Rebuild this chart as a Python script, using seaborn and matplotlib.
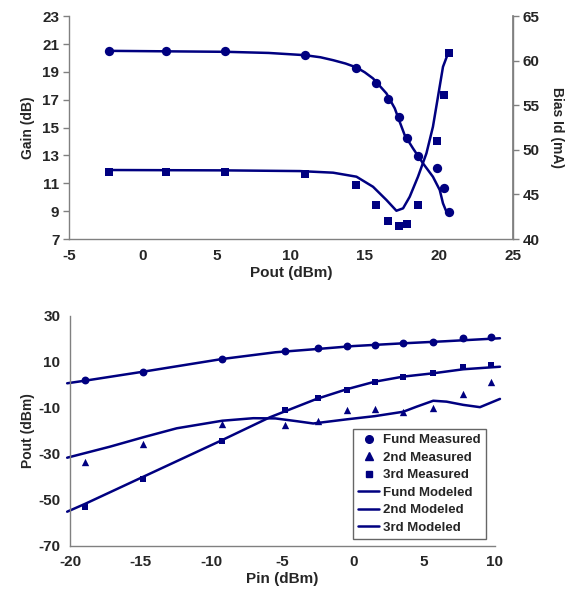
import matplotlib
matplotlib.use("Agg")
import matplotlib.pyplot as plt
from matplotlib.lines import Line2D
import seaborn as sns

sns.set_theme(style="white")
plt.rcParams['font.family'] = ['Liberation Sans', 'DejaVu Sans']
plt.rcParams['font.weight'] = 'bold'
plt.rcParams['axes.unicode_minus'] = False

NAVY = '#000080'
GRAY = '#808080'

# ---------------- Top chart data ----------------
pout_meas = [-2.27, 1.53, 5.54, 10.95, 14.44, 15.74, 16.55, 17.32, 17.86, 18.6, 19.86, 20.36, 20.7]
gain_meas = [20.5, 20.5, 20.5, 20.2, 19.27, 18.17, 17.07, 15.78, 14.27, 12.98, 12.12, 10.64, 8.92]
bias_meas = [47.48, 47.48, 47.48, 47.32, 46.09, 43.78, 42.02, 41.42, 41.68, 43.85, 50.95, 56.1, 60.82]

gain_mod_x = [-2.27, 5.65, 8.5, 10.95, 12.0, 12.86, 13.7, 14.44, 15.0, 15.56, 16.47, 17.03, 17.36,
              17.7, 18.26, 18.94, 19.61, 20.07, 20.29, 20.52, 20.74]
gain_mod_y = [20.51, 20.44, 20.36, 20.2, 20.05, 19.84, 19.6, 19.32, 18.97, 18.53, 17.45, 16.38, 15.42,
              14.46, 13.51, 12.43, 11.47, 10.52, 9.56, 8.96, 8.89]

bias_mod_x = [-2.27, 5.5, 10.61, 12.86, 14.44, 15.56, 16.47, 17.14, 17.59, 18.04, 18.6, 19.17,
              19.61, 19.95, 20.29, 20.63]
bias_mod_y = [47.74, 47.7, 47.62, 47.44, 46.99, 45.86, 44.37, 43.17, 43.44, 44.74, 46.99, 49.61,
              52.59, 55.95, 59.32, 60.82]

# ---------------- Bottom chart data ----------------
pin_meas = [-18.94, -14.85, -9.25, -4.85, -2.47, -0.47, 1.52, 3.52, 5.64, 7.76, 9.69]
fund_meas = [2.0, 5.62, 11.13, 14.91, 15.92, 16.94, 17.37, 18.1, 18.68, 20.42, 20.71]
h2_meas = [-33.7, -25.9, -17.0, -17.6, -15.6, -10.9, -10.6, -11.7, -9.9, -4.0, 1.3]
h3_meas = [-53.0, -40.8, -24.4, -11.1, -5.85, -2.2, 1.1, 3.3, 5.3, 7.65, 8.8]

fund_mod_x = [-20.2, -18.94, -14.83, -9.25, -5.5, -2.59, 0.0, 3.52, 6.5, 10.35]
fund_mod_y = [0.7, 1.83, 5.75, 11.28, 14.2, 15.6, 16.9, 18.1, 19.0, 20.3]

h2_mod_x = [-20.2, -17.18, -14.83, -12.47, -9.25, -7.06, -5.5, -4.0, -2.83, -0.47, 1.52, 3.52,
            4.46, 5.64, 6.58, 7.76, 8.94, 10.35]
h2_mod_y = [-31.7, -26.9, -22.8, -18.9, -15.6, -14.5, -14.6, -15.8, -16.8, -15.0, -13.6, -11.7,
            -9.5, -6.9, -7.3, -8.7, -9.7, -6.1]

h3_mod_x = [-20.2, -18.94, -14.83, -9.25, -5.89, -2.59, -0.47, 1.52, 3.52, 5.64, 7.76, 10.35]
h3_mod_y = [-55.2, -51.8, -40.0, -24.0, -14.1, -6.1, -1.9, 1.4, 3.6, 5.05, 6.8, 7.9]

legend_labels = ['Fund Measured', '2nd Measured', '3rd Measured',
                 'Fund Modeled', '2nd Modeled', '3rd Modeled']

fig = plt.figure(figsize=(5.71, 5.99), dpi=100)

TICK_FS = 11
XLAB_FS = 11
YLAB_FS = 10

def style_axis(ax, right=False):
    ax.spines['top'].set_visible(False)
    ax.spines['right'].set_visible(right)
    for s in ['left', 'bottom', 'right']:
        ax.spines[s].set_color(GRAY)
        ax.spines[s].set_linewidth(1.0)
    ax.tick_params(axis='both', which='both', direction='out', length=4, width=1,
                   color=GRAY, labelsize=TICK_FS, pad=3)
    for lab in ax.get_xticklabels() + ax.get_yticklabels():
        lab.set_fontweight('bold')

# ---------------- Top chart ----------------
ax1 = fig.add_axes([0.1208, 0.601, 0.777, 0.372])
ax1.set_facecolor('white')
sns.lineplot(x=gain_mod_x, y=gain_mod_y, ax=ax1, color=NAVY, lw=1.8, sort=False, estimator=None)
sns.scatterplot(x=pout_meas, y=gain_meas, ax=ax1, color=NAVY, marker='o', s=45, linewidth=0, zorder=3)
ax1.set_xlim(-5, 25)
ax1.set_ylim(7, 23)
ax1.set_xticks(range(-5, 26, 5))
ax1.set_yticks(range(7, 24, 2))
ax1.set_xlabel('Pout (dBm)', fontsize=XLAB_FS, fontweight='bold', labelpad=2)
ax1.set_ylabel('Gain (dB)', fontsize=YLAB_FS, fontweight='bold', labelpad=5)
style_axis(ax1, right=True)

ax2 = ax1.twinx()
sns.lineplot(x=bias_mod_x, y=bias_mod_y, ax=ax2, color=NAVY, lw=1.8, sort=False, estimator=None)
sns.scatterplot(x=pout_meas, y=bias_meas, ax=ax2, color=NAVY, marker='s', s=40, linewidth=0, zorder=3)
ax2.set_ylim(40, 65)
ax2.set_yticks(range(40, 66, 5))
ax2.set_ylabel('Bias Id (mA)', fontsize=YLAB_FS, fontweight='bold', rotation=-90, labelpad=18)
ax2.spines['top'].set_visible(False)
ax2.spines['left'].set_visible(False)
ax2.spines['bottom'].set_visible(False)
ax2.spines['right'].set_color(GRAY)
ax2.tick_params(axis='y', direction='out', length=4, width=1, color=GRAY, labelsize=TICK_FS, pad=3)
for lab in ax2.get_yticklabels():
    lab.set_fontweight('bold')

# ---------------- Bottom chart ----------------
ax3 = fig.add_axes([0.1226, 0.089, 0.7443, 0.3835])
ax3.set_facecolor('white')
for xs, ys in [(fund_mod_x, fund_mod_y), (h2_mod_x, h2_mod_y), (h3_mod_x, h3_mod_y)]:
    sns.lineplot(x=xs, y=ys, ax=ax3, color=NAVY, lw=1.8, sort=False, estimator=None)
for l in ax3.get_lines():
    l.set_clip_on(False)
sns.scatterplot(x=pin_meas, y=fund_meas, ax=ax3, color=NAVY, marker='o', s=32, linewidth=0, zorder=3)
sns.scatterplot(x=pin_meas, y=h2_meas, ax=ax3, color=NAVY, marker='^', s=28, linewidth=0, zorder=3)
sns.scatterplot(x=pin_meas, y=h3_meas, ax=ax3, color=NAVY, marker='s', s=24, linewidth=0, zorder=3)
ax3.set_xlim(-20, 10)
ax3.set_ylim(-70, 30)
ax3.set_xticks(range(-20, 11, 5))
ax3.set_yticks(range(-70, 31, 20))
ax3.set_xlabel('Pin (dBm)', fontsize=XLAB_FS, fontweight='bold', labelpad=2)
ax3.set_ylabel('Pout (dBm)', fontsize=YLAB_FS, fontweight='bold', labelpad=2)
style_axis(ax3, right=False)

handles = [
    Line2D([], [], color=NAVY, marker='o', ls='none', markersize=5.5),
    Line2D([], [], color=NAVY, marker='^', ls='none', markersize=5.5),
    Line2D([], [], color=NAVY, marker='s', ls='none', markersize=4.5),
    Line2D([], [], color=NAVY, lw=1.8),
    Line2D([], [], color=NAVY, lw=1.8),
    Line2D([], [], color=NAVY, lw=1.8),
]
leg = ax3.legend(handles, legend_labels, loc='lower right', bbox_to_anchor=(0.979, 0.029),
                 borderaxespad=0, frameon=True, fancybox=False, edgecolor='#404040',
                 prop={'weight': 'bold', 'size': 9.5}, handlelength=1.6, handletextpad=0.3,
                 labelspacing=0.4, borderpad=0.4)
leg.get_frame().set_linewidth(1.0)

fig.savefig('out.png', dpi=100, facecolor='white')
